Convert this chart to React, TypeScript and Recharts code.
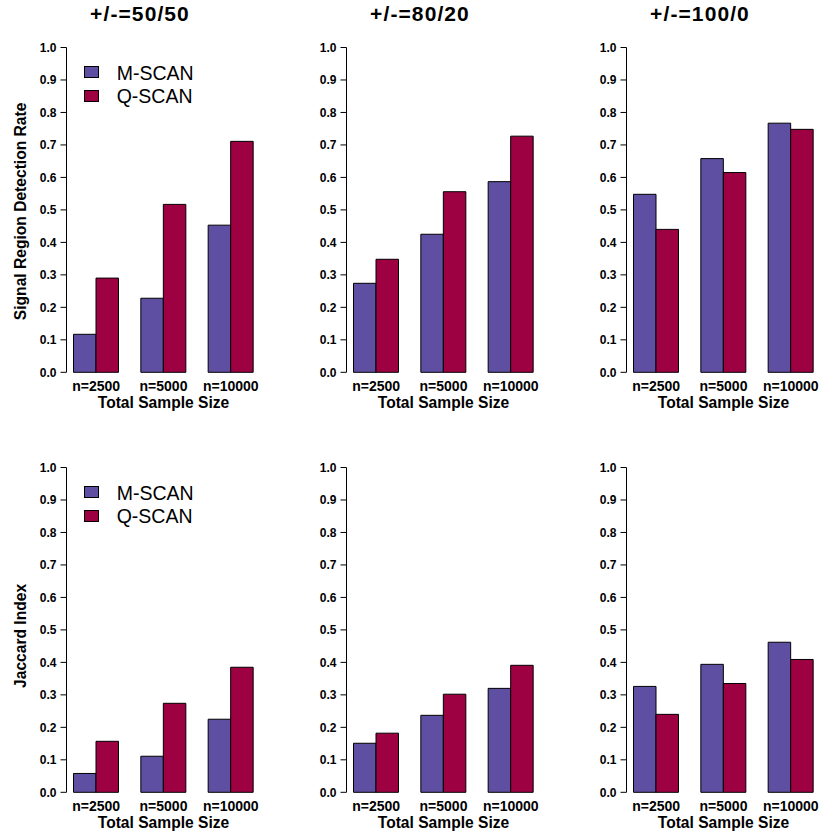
import React from 'react';
import { BarChart, Bar, XAxis, YAxis, Legend } from 'recharts';

const sampleSizes = ['n=2500', 'n=5000', 'n=10000'];
const panelTitles = ['+/-=50/50', '+/-=80/20', '+/-=100/0'];
const yTicks = [0, 0.1, 0.2, 0.3, 0.4, 0.5, 0.6, 0.7, 0.8, 0.9, 1.0];

// signal region detection rate (top row)
const detectM = [
  [0.117, 0.228, 0.453],
  [0.274, 0.425, 0.587],
  [0.548, 0.658, 0.767],
];
const detectQ = [
  [0.29, 0.517, 0.711],
  [0.348, 0.556, 0.727],
  [0.44, 0.615, 0.748],
];

// jaccard index (bottom row)
const jaccardM = [
  [0.058, 0.111, 0.225],
  [0.151, 0.237, 0.32],
  [0.326, 0.394, 0.462],
];
const jaccardQ = [
  [0.157, 0.274, 0.385],
  [0.182, 0.302, 0.391],
  [0.24, 0.335, 0.409],
];

const M_COLOR = '#5E4FA2';
const Q_COLOR = '#9E0142';
const FONT = '"Liberation Sans", Arial, Helvetica, sans-serif';

function LegendBox({ payload }: any) {
  return (
    <div style={{ fontFamily: FONT }}>
      {(payload || []).map((item: any) => (
        <div key={item.value} style={{ display: 'flex', alignItems: 'flex-start', height: 23.5 }}>
          <div
            style={{
              width: 15,
              height: 12,
              marginTop: 4.5,
              boxSizing: 'border-box',
              border: '1px solid #000',
              background: item.color,
              marginRight: 17.7,
            }}
          />
          <span style={{ fontSize: 19.5, lineHeight: '23.5px', color: '#000' }}>{item.value}</span>
        </div>
      ))}
    </div>
  );
}

interface PanelProps {
  m: number[];
  q: number[];
  title?: string;
  yLabel?: string;
  yLabelShift?: number;
  showLegend?: boolean;
  left: number;
  top: number;
}

function Panel({ m, q, title, yLabel, yLabelShift = 0, showLegend, left, top }: PanelProps) {
  const data = sampleSizes.map((n, i) => ({ n, mscan: m[i], qscan: q[i] }));
  return (
    <div style={{ position: 'absolute', left, top, width: 280, height: 420 }}>
      {title && (
        <div
          style={{
            position: 'absolute',
            top: 2.9,
            left: 0,
            width: 280,
            textAlign: 'center',
            fontFamily: FONT,
            fontWeight: 'bold',
            fontSize: 21,
            lineHeight: '21px',
            letterSpacing: 1.1,
            color: '#000',
          }}
        >
          {title}
        </div>
      )}
      <BarChart
        width={280}
        height={420}
        data={data}
        margin={{ top: 47.5, right: 19.5, bottom: 17.7, left: 0 }}
        barSize={22.5}
        barGap={0}
        barCategoryGap={11}
        style={{ fontFamily: FONT }}
      >
        <XAxis
          dataKey="n"
          height={30}
          padding={{ left: -4, right: -4 }}
          axisLine={false}
          tickLine={false}
          tickSize={6}
          tickMargin={3}
          interval={0}
          tick={{ fill: '#000', fontSize: 14, fontWeight: 'bold' }}
          label={{
            value: 'Total Sample Size',
            position: 'bottom',
            offset: -5,
            fill: '#000',
            fontSize: 15.6,
            fontWeight: 'bold',
          }}
        />
        <YAxis
          width={66.5}
          domain={[0, 1]}
          ticks={yTicks}
          interval={0}
          tickFormatter={(v: number) => v.toFixed(1)}
          tickSize={6}
          tickMargin={4}
          axisLine={{ stroke: '#000' }}
          tickLine={{ stroke: '#000' }}
          tick={{ fill: '#000', fontSize: 12, fontWeight: 'bold' }}
          label={
            yLabel
              ? {
                  value: yLabel,
                  angle: -90,
                  position: 'center',
                  dx: -13.25,
                  dy: yLabelShift,
                  fill: '#000',
                  fontSize: 15.6,
                  fontWeight: 'bold',
                }
              : undefined
          }
        />
        {showLegend && (
          <Legend
            layout="vertical"
            align="center"
            verticalAlign="middle"
            content={LegendBox}
            wrapperStyle={{ top: 61.5, left: 84, width: 'auto' }}
          />
        )}
        <Bar dataKey="mscan" name="M-SCAN" fill={M_COLOR} stroke="#000" strokeWidth={1} isAnimationActive={false} />
        <Bar dataKey="qscan" name="Q-SCAN" fill={Q_COLOR} stroke="#000" strokeWidth={1} isAnimationActive={false} />
      </BarChart>
    </div>
  );
}

export default function App() {
  return (
    <div style={{ position: 'absolute', left: 0, top: 0, width: 840, height: 840, background: '#fff' }}>
      {panelTitles.map((t, i) => (
        <Panel
          key={`top-${i}`}
          m={detectM[i]}
          q={detectQ[i]}
          title={t}
          yLabel={i === 0 ? 'Signal Region Detection Rate' : undefined}
          yLabelShift={1.5}
          showLegend={i === 0}
          left={i * 280}
          top={0}
        />
      ))}
      {panelTitles.map((t, i) => (
        <Panel
          key={`bottom-${i}`}
          m={jaccardM[i]}
          q={jaccardQ[i]}
          yLabel={i === 0 ? 'Jaccard Index' : undefined}
          yLabelShift={6}
          showLegend={i === 0}
          left={i * 280}
          top={420}
        />
      ))}
    </div>
  );
}
